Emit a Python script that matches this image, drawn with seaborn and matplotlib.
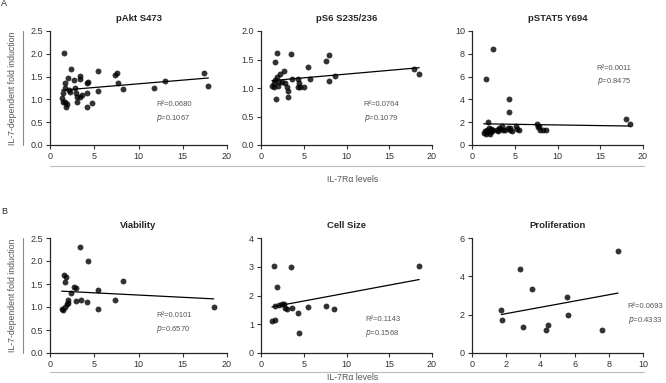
import numpy as np
import seaborn as sns
import matplotlib.pyplot as plt

# 데이터
akt_x = [1.62, 2.38, 2.08, 2.7, 3.4, 3.4, 4.26, 4.2, 5.4, 7.36, 7.55, 7.74, 8.3, 11.8, 13.0, 17.4, 17.9,
         1.32, 1.5, 1.7, 1.7, 1.7, 1.8, 1.9, 2.2, 2.8, 2.9, 3.0, 3.1, 3.4, 3.6, 4.2, 4.2, 4.8, 5.4, 1.43, 2.3]
akt_y = [2.02, 1.66, 1.48, 1.42, 1.51, 1.44, 1.39, 1.35, 1.62, 1.53, 1.58, 1.37, 1.22, 1.24, 1.40, 1.58, 1.30,
         1.02, 1.13, 1.24, 1.35, 0.95, 0.84, 0.90, 1.21, 1.26, 1.13, 1.06, 0.94, 1.06, 1.10, 1.13, 0.84, 0.93, 1.19, 0.95, 1.16]

s6_x = [1.86, 1.67, 3.5, 5.55, 7.6, 7.96, 8.0, 8.6, 17.9, 18.5, 1.79, 1.28, 1.48, 1.67, 1.86, 2.17,
        2.64, 1.94, 1.55, 2.45, 2.83, 3.03, 3.1, 3.15, 3.6, 4.27, 4.3, 4.58, 4.5, 5.0, 5.7, 2.1]
s6_y = [1.62, 1.45, 1.59, 1.37, 1.48, 1.58, 1.12, 1.21, 1.34, 1.24, 0.80, 1.03, 1.08, 1.14, 1.19, 1.24,
        1.30, 1.03, 1.01, 1.11, 1.08, 1.01, 0.94, 0.85, 1.16, 1.16, 1.02, 1.01, 1.09, 1.01, 1.16, 1.10]

stat5_x = [2.46, 1.68, 4.37, 4.33, 18.0, 18.5, 7.6, 1.87,
           1.36, 1.5, 1.75, 1.95, 2.14, 2.06, 2.3, 2.5, 1.6, 1.8, 2.2,
           2.9, 3.1, 3.3, 3.5, 3.6, 3.9, 4.2, 4.5, 4.7, 5.1, 5.3, 5.5, 3.0, 4.4,
           7.8, 8.0, 8.3, 8.6, 7.7]
stat5_y = [8.40, 5.76, 4.07, 2.91, 2.24, 1.83, 1.83, 2.06,
           1.05, 1.20, 1.30, 1.50, 1.10, 0.95, 1.25, 1.35, 1.00, 1.15, 1.40,
           1.30, 1.45, 1.40, 1.70, 1.35, 1.30, 1.50, 1.50, 1.20, 1.65, 1.40, 1.35, 1.20, 1.30,
           1.65, 1.35, 1.30, 1.35, 1.55]

via_x = [3.4, 4.34, 1.58, 1.77, 1.7, 2.72, 2.94, 2.34, 8.3, 5.47, 2.08, 2.94, 3.47, 4.15, 7.36,
         1.32, 1.5, 1.7, 1.9, 2.08, 5.4, 18.5]
via_y = [2.30, 2.01, 1.70, 1.65, 1.54, 1.43, 1.41, 1.30, 1.57, 1.36, 1.16, 1.14, 1.16, 1.11, 1.16,
         0.96, 0.93, 1.00, 1.06, 1.09, 0.96, 1.01]

size_x = [1.55, 3.5, 1.86, 18.5, 1.67, 2.06, 2.45, 2.64, 2.83, 3.03, 3.6, 5.55, 7.6, 8.5, 4.27, 4.47, 1.28, 1.67]
size_y = [3.01, 2.99, 2.30, 3.04, 1.62, 1.66, 1.72, 1.69, 1.58, 1.54, 1.58, 1.60, 1.62, 1.54, 1.39, 0.70, 1.11, 1.14]

prol_x = [1.71, 1.75, 2.82, 3.0, 3.5, 4.31, 4.47, 5.53, 5.63, 7.61, 8.54]
prol_y = [2.23, 1.70, 4.38, 1.34, 3.32, 1.18, 1.44, 2.90, 2.00, 1.22, 5.30]

titles = ["pAkt S473", "pS6 S235/236", "pSTAT5 Y694", "Viability", "Cell Size", "Proliferation"]
r2_labels = ["R\u00b2=0.0680", "R\u00b2=0.0764", "R\u00b2=0.0011", "R\u00b2=0.0101", "R\u00b2=0.1143", "R\u00b2=0.0693"]
p_labels = ["0.1067", "0.1079", "0.8475", "0.6570", "0.1568", "0.4333"]

sns.set_style("ticks")
plt.rcParams['font.family'] = ['Liberation Sans', 'DejaVu Sans']

W, H = 666, 383
fig = plt.figure(figsize=(W / 100, H / 100), dpi=100)


def px_axes(left, right, top, bottom):
    return fig.add_axes([left / W, 1 - bottom / H, (right - left) / W, (bottom - top) / H])


panels = [
    (akt_x, akt_y, (50, 227, 31, 145), (0, 20, 5), (0, 2.5, 0.5), "%.1f", (0.60, 0.34)),
    (s6_x, s6_y, (261, 432, 31, 145), (0, 20, 5), (0, 2.0, 0.5), "%.1f", (0.60, 0.34)),
    (stat5_x, stat5_y, (472, 643, 31, 145), (0, 20, 5), (0, 10, 2), "%d", (0.73, 0.66)),
    (via_x, via_y, (50, 227, 238, 353), (0, 20, 5), (0, 2.5, 0.5), "%.1f", (0.60, 0.31)),
    (size_x, size_y, (261, 432, 238, 353), (0, 20, 5), (0, 4, 1), "%d", (0.61, 0.28)),
    (prol_x, prol_y, (472, 643, 238, 353), (0, 10, 2), (0, 6, 2), "%d", (0.91, 0.39)),
]

for i, (xs, ys, box, xr, yr, yfmt, tpos) in enumerate(panels):
    ax = px_axes(*box)
    sns.regplot(x=np.array(xs), y=np.array(ys), ax=ax, ci=None, truncate=True, color="black",
                scatter_kws=dict(s=18, linewidths=0), line_kws=dict(lw=0.9))
    ax.set_xlim(xr[0], xr[1])
    ax.set_ylim(yr[0], yr[1])
    ax.set_xticks(np.arange(xr[0], xr[1] + 0.01, xr[2]))
    ax.set_yticks(np.arange(yr[0], yr[1] + 0.01, yr[2]))
    ax.yaxis.set_major_formatter(plt.FormatStrFormatter(yfmt))
    ax.xaxis.set_major_formatter(plt.FormatStrFormatter("%d"))
    sns.despine(ax=ax)
    for sp in ax.spines.values():
        sp.set_linewidth(0.9)
    ax.tick_params(labelsize=6.5, length=3, width=0.8, colors="#333333", pad=2)
    ax.set_xlabel("")
    ax.set_ylabel("")
    ax.set_title(titles[i], fontsize=6.8, fontweight="bold", pad=7)
    ax.text(tpos[0], tpos[1], r2_labels[i], transform=ax.transAxes, fontsize=5.5, color="#555555",
            clip_on=False)
    ax.text(tpos[0], tpos[1] - 0.12, "$p$=" + p_labels[i], transform=ax.transAxes, fontsize=5.5,
            color="#555555", clip_on=False)

# 아래쪽 회색 선과 x축 라벨
for yline, ylab in [(166, 179), (372, 378)]:
    fig.add_artist(plt.Line2D([50 / W, 644 / W], [1 - yline / H, 1 - yline / H], color="#bbbbbb", lw=0.8))
    fig.text(353 / W, 1 - ylab / H, "IL-7R\u03b1 levels", fontsize=6.3, color="#555555",
             ha="center", va="center")

# 왼쪽 y축 라벨과 세로선
for top, bottom in [(31, 145), (238, 353)]:
    fig.add_artist(plt.Line2D([23 / W, 23 / W], [1 - top / H, 1 - bottom / H], color="#888888", lw=0.8))
    fig.text(13 / W, 1 - (top + bottom) / 2 / H, "IL-7-dependent fold induction", fontsize=6.3,
             color="#555555", rotation=90, ha="center", va="center")

fig.text(1 / W, 1 - 4 / H, "A", fontsize=6.5, ha="left", va="center")
fig.text(1 / W, 1 - 211 / H, "B", fontsize=6.5, ha="left", va="center")

plt.savefig("out.png", dpi=100)
plt.close()
